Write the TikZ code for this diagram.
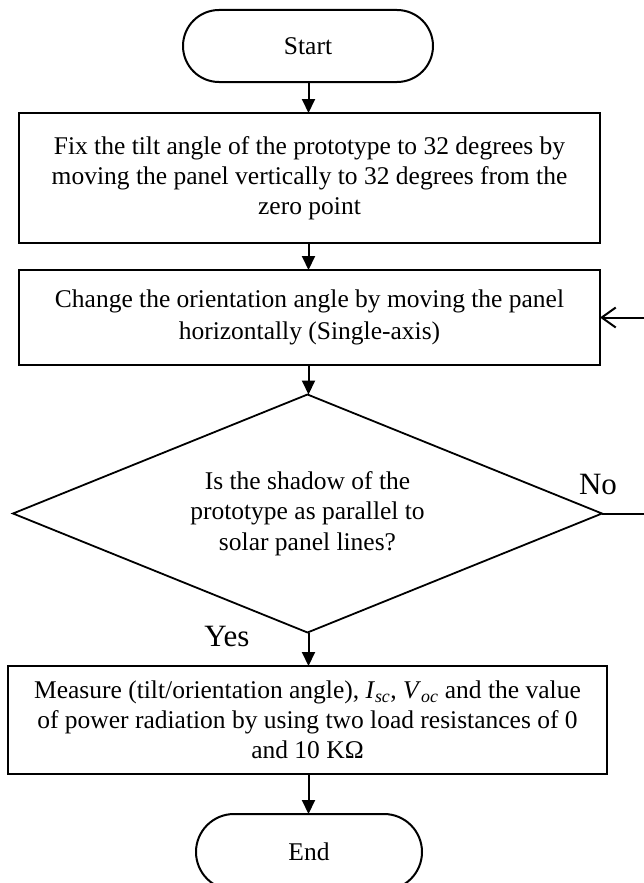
\documentclass[tikz,border=0pt]{standalone}
\usepackage{fontspec}
\setmainfont{Liberation Serif}
\usetikzlibrary{shapes.geometric,arrows.meta}

\begin{document}
\begin{tikzpicture}[x=1pt,y=-1pt,
  every node/.style={font=\fontsize{25.5}{30}\selectfont, align=center, inner sep=0pt, outer sep=0pt},
  terminal/.style={draw, line width=2pt, rectangle, rounded corners=36pt},
  procbox/.style={draw, line width=2pt, rectangle},
  decision/.style={draw, line width=1.8pt, diamond},
  flow/.style={line width=2pt, -{Triangle[length=14pt,width=13pt]}},
  backflow/.style={line width=2pt, -{Straight Barb[length=14pt,width=20pt,line width=2pt]}},
  tag/.style={font=\fontsize{31}{32}\selectfont}
]
\useasboundingbox (0,0) rectangle (643,883);

\node[terminal, minimum width=250pt, minimum height=72pt] (start) at (308,46) {Start};

\node[procbox, minimum width=581pt, minimum height=130pt] (fix) at (309.5,178)
  {Fix the tilt angle of the prototype to 32 degrees by\\
   moving the panel vertically to 32 degrees from the\\
   zero point};

\node[procbox, minimum width=581pt, minimum height=95pt,
      font=\fontsize{25.5}{32}\selectfont] (orient) at (309.5,317.5)
  {Change the orientation angle by moving the panel\\
   horizontally (Single-axis)};

\node[decision, minimum width=589pt, minimum height=238pt, aspect=2.47,
      font=\fontsize{25.5}{30.5}\selectfont] (check) at (307.5,513.5)
  {Is the shadow of the\\ prototype as parallel to\\ solar panel lines?};

\node[procbox, minimum width=599pt, minimum height=108pt] (measure) at (307.5,720)
  {Measure (tilt/orientation angle), \textit{I}\textsubscript{\textit{sc}}, \textit{V}\textsubscript{\textit{oc}} and the value\\
   of power radiation by using two load resistances of 0\\
   and 10 KΩ};

\node[terminal, rounded corners=38pt, minimum width=226pt, minimum height=76pt] (finish) at (309,852) {End};

\node[tag] (yes) at (227,636) {Yes};
\node[tag] (no) at (598,484) {No};

% main flow, all shafts on one vertical line
\coordinate (axis) at (308.5,0);
\draw[flow] (axis |- start.south) -- (axis |- fix.north);
\draw[flow] (axis |- fix.south) -- (axis |- orient.north);
\draw[flow] (axis |- orient.south) -- (axis |- check.north);
\draw[flow] (axis |- check.south) -- (axis |- measure.north);
\draw[flow] (axis |- measure.south) -- (axis |- finish.north);

% loop back when the answer is no
\coordinate (loopR) at (662,513.5);
\draw[backflow] (check.east) -- (loopR) |- (orient.east);
\end{tikzpicture}
\end{document}
